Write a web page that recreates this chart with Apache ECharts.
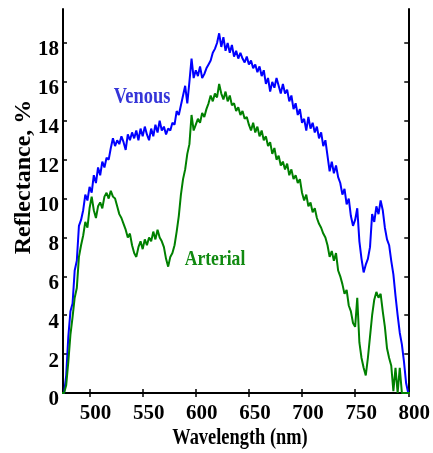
<!DOCTYPE html>
<html><head><meta charset="utf-8">
<script src="https://cdn.jsdelivr.net/npm/echarts@6/dist/echarts.min.js"></script>
<style>html,body{margin:0;padding:0;background:#fff}#c{width:433px;height:453px}</style>
</head><body><div id="c"></div>
<script>
const wavelengths = [463,
476,478,480,482,484,486,488,490,492,494,496,498,500,502,504,506,508,510,512,514,516,518,520,522,524,526,528,530,532,534,536,538,540,542,544,546,548,550,552,554,556,558,560,562,564,566,568,570,572,574,576,578,580,582,584,586,588,590,592,594,596,598,600,602,604,606,608,610,612,614,616,618,620,622,624,626,628,630,632,634,636,638,640,642,644,646,648,650,652,654,656,658,660,662,664,666,668,670,672,674,676,678,680,682,684,686,688,690,692,694,696,698,700,702,704,706,708,710,712,714,716,718,720,722,724,726,728,730,732,734,736,738,740,742,744,746,748,750,752,754,756,758,760,762,764,766,768,770,772,774,776,778,780,782,784,786,788,790,792,794,796,798,800,802];

const venous = [0,
0,0.9,2.9,4.2,4.6,6.3,6.8,8.6,8.9,9.4,10.2,9.9,10.6,10.3,11.2,10.8,11.6,11.2,11.9,11.6,12.1,12.0,12.6,13.1,12.7,13.0,12.8,13.2,12.9,12.5,13.3,13.0,13.4,13.1,13.5,13.0,13.6,13.2,13.7,13.3,13.0,13.6,13.2,13.8,13.4,14.0,13.5,13.7,13.3,13.6,13.5,13.9,13.8,14.5,14.3,14.8,15.3,15.8,14.9,16.0,17.2,16.2,16.6,16.3,16.8,16.2,16.4,16.7,16.9,17.1,17.5,17.7,18.0,18.5,17.8,18.3,17.6,18.0,17.5,17.9,17.3,17.6,17.2,17.5,17.2,17.0,17.3,16.9,17.1,16.7,16.9,16.5,16.8,16.3,16.6,15.9,16.2,15.5,16.0,15.7,16.2,15.8,15.4,15.9,15.4,15.6,15.0,15.3,14.6,14.9,14.3,14.6,13.9,14.1,13.5,14.2,13.6,13.9,13.4,13.7,13.1,13.4,12.7,13.0,12.2,11.4,11.9,11.3,11.7,11.1,10.8,10.2,10.5,9.7,10.0,9.1,8.6,8.9,9.5,7.8,6.9,6.2,6.6,6.9,7.5,9.2,8.8,9.6,9.2,9.9,9.4,8.5,7.9,7.6,6.8,6.1,5.0,4.0,3.1,2.5,1.6,0.5,0,0];

const arterial = [0,
0,0.4,1.6,3.0,3.9,4.9,5.4,7.0,7.6,8.1,8.8,8.5,9.5,10.1,9.4,9.0,9.6,9.8,9.5,10.1,10.3,10.0,10.4,10.1,10.0,9.6,9.2,9.0,8.7,8.4,8.0,8.2,7.6,7.2,7.0,7.5,7.8,7.4,7.9,7.6,8.0,7.8,8.3,7.9,8.4,8.0,7.8,7.5,6.9,6.5,7.0,7.2,7.6,8.3,9.1,10.2,11.0,11.5,12.3,12.8,14.3,13.5,13.8,14.1,13.9,14.4,14.2,14.6,14.9,15.3,15.0,15.4,15.2,15.9,15.4,15.1,15.5,15.0,15.3,14.8,14.9,14.5,14.7,14.3,14.5,14.1,14.2,13.8,13.5,13.9,13.4,13.7,13.2,13.5,13.0,13.2,12.7,12.9,12.3,12.6,12.0,12.2,11.7,11.9,11.5,11.8,11.2,11.5,11.0,11.2,10.8,11.0,10.3,9.9,10.2,9.6,9.8,9.3,9.5,9.0,8.7,8.5,8.2,8.0,7.6,7.0,7.3,6.8,7.2,6.3,6.0,5.6,5.1,5.3,4.5,4.2,3.6,3.4,4.9,2.6,1.8,1.3,0.9,1.8,2.9,4.0,4.8,5.2,4.9,5.1,4.2,3.4,2.3,1.8,1.4,0.1,1.3,0,1.3,0,0,0,0,0];

const xTicks = [500, 550, 600, 650, 700, 750, 800];
const yTicks = [0, 2, 4, 6, 8, 10, 12, 14, 16, 18];
const seriesNames = ['Venous', 'Arterial'];

const toPairs = (xs, ys) => xs.map((x, i) => [x, ys[i]]);

const FONT = '"Liberation Serif", "Times New Roman", serif';
const chart = echarts.init(document.getElementById('c'), null, {renderer: 'canvas'});

const axisLineStyle = {show: true, lineStyle: {color: '#000', width: 2}};
const xTickStyle = {show: true, inside: true, length: 4, customValues: xTicks, lineStyle: {color: '#000', width: 1.5}};
const yTickStyle = {show: true, inside: true, length: 4, customValues: yTicks, lineStyle: {color: '#000', width: 1.5}};

chart.setOption({
  animation: false,
  backgroundColor: '#fff',
  grid: {left: 63, right: 22, top: 9, bottom: 60, containLabel: false},
  xAxis: [{
    type: 'value', min: 475, max: 800, position: 'bottom',
    axisLine: axisLineStyle, axisTick: xTickStyle, splitLine: {show: false},
    axisLabel: {
      customValues: xTicks,
      color: '#000', fontFamily: FONT, fontWeight: 'bold', fontSize: 21, lineHeight: 21,
      margin: 10, padding: [0, 0, 0, 12], hideOverlap: false
    }
  }, {
    type: 'value', min: 475, max: 800, position: 'top',
    axisLine: axisLineStyle, axisTick: xTickStyle, splitLine: {show: false},
    axisLabel: {show: false}
  }],
  yAxis: [{
    type: 'value', min: 0, max: 19.75, position: 'left',
    axisLine: axisLineStyle, axisTick: yTickStyle, splitLine: {show: false},
    axisLabel: {
      customValues: yTicks,
      color: '#000', fontFamily: FONT, fontWeight: 'bold', fontSize: 21, lineHeight: 14,
      margin: 4, verticalAlign: 'top', hideOverlap: false
    }
  }, {
    type: 'value', min: 0, max: 19.75, position: 'right',
    axisLine: axisLineStyle, axisTick: yTickStyle, splitLine: {show: false},
    axisLabel: {show: false}
  }],
  series: [{
    name: seriesNames[0], type: 'line', data: toPairs(wavelengths, venous),
    showSymbol: false, symbol: 'none', clip: false,
    lineStyle: {color: '#0000ff', width: 2}, z: 2
  }, {
    name: seriesNames[1], type: 'line', data: toPairs(wavelengths, arterial),
    showSymbol: false, symbol: 'none', clip: false,
    lineStyle: {color: '#008000', width: 2}, z: 3
  }],
  graphic: [{
    type: 'text', x: 142, y: 97, scaleX: 0.8, z: 10,
    style: {text: seriesNames[0], fill: '#3535d8', font: 'bold 23px ' + FONT, align: 'center', verticalAlign: 'middle'}
  }, {
    type: 'text', x: 215, y: 259.5, scaleX: 0.8, z: 10,
    style: {text: seriesNames[1], fill: '#108a10', font: 'bold 22px ' + FONT, align: 'center', verticalAlign: 'middle'}
  }, {
    type: 'text', x: 240, y: 438, scaleX: 0.8, z: 10,
    style: {text: 'Wavelength (nm)', fill: '#000', font: 'bold 23px ' + FONT, align: 'center', verticalAlign: 'middle'}
  }, {
    type: 'text', x: 23.5, y: 177, rotation: Math.PI / 2, z: 10,
    style: {text: 'Reflectance, %', fill: '#000', font: 'bold 24px ' + FONT, align: 'center', verticalAlign: 'middle'}
  }]
});
</script>
</body></html>
